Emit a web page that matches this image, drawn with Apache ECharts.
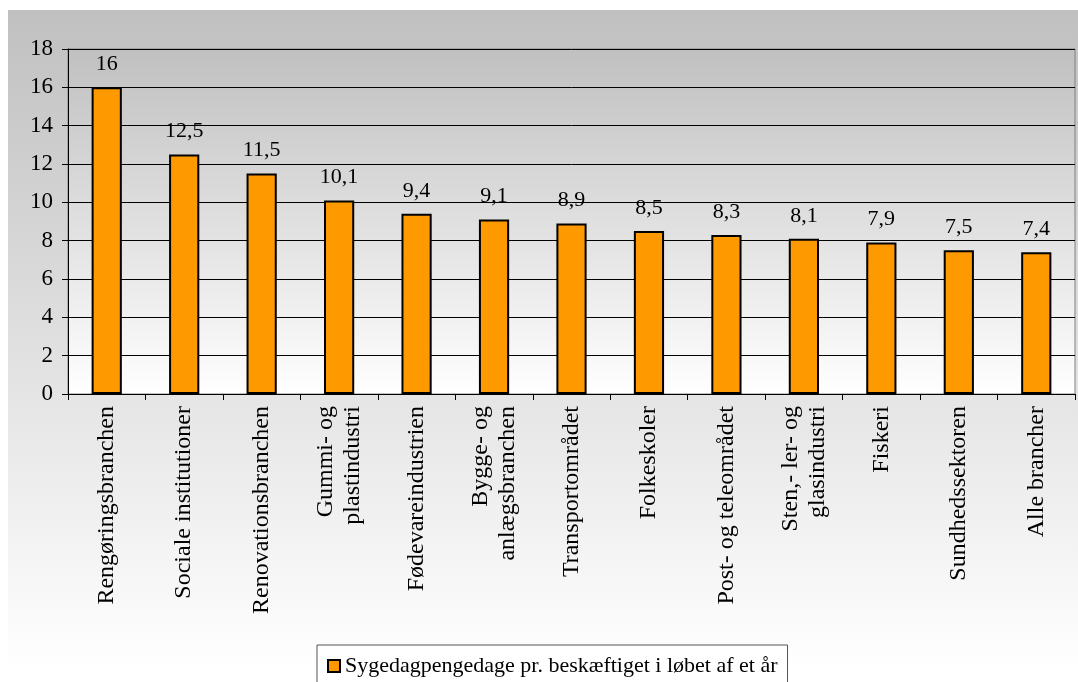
<!DOCTYPE html>
<html>
<head>
<meta charset="utf-8">
<script src="https://cdn.jsdelivr.net/npm/echarts@6/dist/echarts.min.js"></script>
<style>
	html, body { margin: 0; padding: 0; background: #fff; }
	#main { width: 1078px; height: 682px; }
</style>
</head>
<body>
<div id="main"></div>
<script>
// categories (line breaks as in the source chart)
var categories = [
	'Rengøringsbranchen',
	'Sociale institutioner',
	'Renovationsbranchen',
	'Gummi- og\nplastindustri',
	'Fødevareindustrien',
	'Bygge- og\nanlægsbranchen',
	'Transportområdet',
	'Folkeskoler',
	'Post- og teleområdet',
	'Sten,- ler- og\nglasindustri',
	'Fiskeri',
	'Sundhedssektoren',
	'Alle brancher'
];
var values = [16, 12.5, 11.5, 10.1, 9.4, 9.1, 8.9, 8.5, 8.3, 8.1, 7.9, 7.5, 7.4];
var seriesName = 'Sygedagpengedage pr. beskæftiget i løbet af et år';
var yTicks = [0, 2, 4, 6, 8, 10, 12, 14, 16, 18];

var FONT = '"Liberation Serif", "Times New Roman", serif';

var myChart = echarts.init(document.getElementById('main'));

function fmtComma(v) {
	return String(v).replace('.', ',');
}

var option = {
	animation : false,
	backgroundColor : '#fff',
	graphic : [ {
		type : 'rect',
		z : -10,
		shape : { x : 8, y : 10, width : 1070, height : 658 },
		style : {
			fill : new echarts.graphic.LinearGradient(0, 0, 0, 1, [
				{ offset : 0, color : '#c0c0c0' },
				{ offset : 1, color : '#ffffff' }
			])
		}
	} ],
	grid : {
		left : 68,
		right : 3,
		top : 49,
		bottom : 288,
		show : true,
		borderColor : '#808080',
		borderWidth : 1,
		backgroundColor : new echarts.graphic.LinearGradient(0, 0, 0, 1, [
			{ offset : 0, color : '#c0c0c0' },
			{ offset : 1, color : '#ffffff' }
		])
	},
	legend : {
		left : 317,
		top : 645,
		padding : [10, 10, 12, 10],
		backgroundColor : '#fff',
		borderColor : '#555',
		borderWidth : 1,
		borderRadius : 0,
		itemWidth : 12,
		itemHeight : 12,
		icon : 'rect',
		textStyle : {
			fontFamily : FONT,
			fontSize : 22,
			color : '#000'
		},
		data : [ seriesName ]
	},
	xAxis : {
		type : 'category',
		data : categories,
		axisLine : { lineStyle : { color : '#000', width : 1 } },
		axisTick : { show : true, alignWithLabel : false, length : 6, lineStyle : { color : '#000' } },
		axisLabel : {
			rotate : 90,
			interval : 0,
			margin : 12,
			fontFamily : FONT,
			fontSize : 24,
			lineHeight : 27,
			color : '#000'
		}
	},
	yAxis : {
		type : 'value',
		min : yTicks[0],
		max : yTicks[yTicks.length - 1],
		interval : 2,
		axisLine : { show : true, lineStyle : { color : '#000', width : 1 } },
		axisTick : { show : true, length : 6, lineStyle : { color : '#000' } },
		axisLabel : {
			margin : 15,
			fontFamily : FONT,
			fontSize : 23,
			color : '#000'
		},
		splitLine : { lineStyle : { color : '#000', width : 1 } }
	},
	series : [ {
		name : seriesName,
		type : 'bar',
		data : values,
		barWidth : '39%',
		itemStyle : {
			color : '#ff9900',
			borderColor : '#000',
			borderWidth : 2
		},
		label : {
			show : true,
			position : 'top',
			distance : 12,
			fontFamily : FONT,
			fontSize : 22,
			color : '#000',
			formatter : function(p) {
				return fmtComma(p.value);
			}
		}
	} ]
};

myChart.setOption(option);
</script>
</body>
</html>
